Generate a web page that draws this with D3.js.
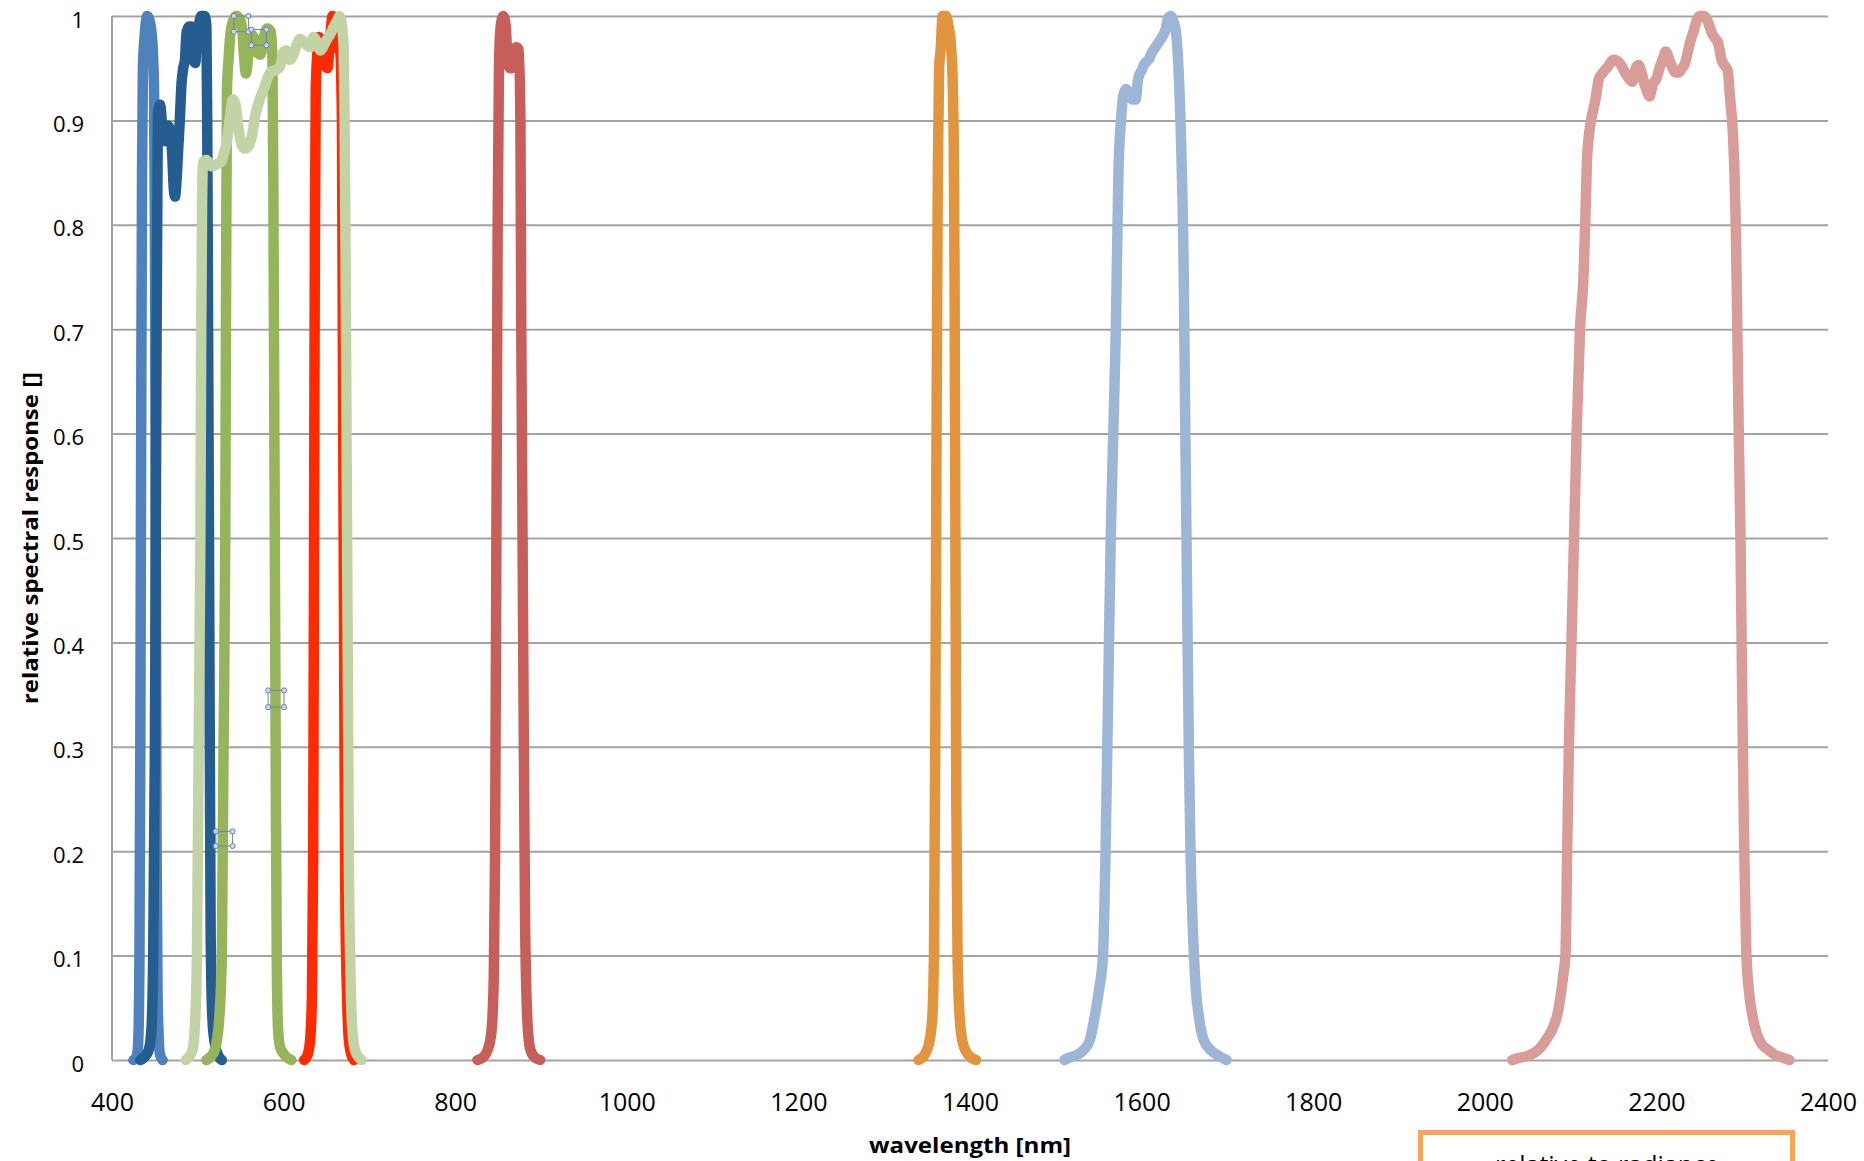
<!DOCTYPE html>
<html>
<head>
<meta charset="utf-8">
<script src="https://cdn.jsdelivr.net/npm/d3@7"></script>
<style>
  html, body { margin: 0; padding: 0; background: #fff; }
  svg { display: block; }
</style>
</head>
<body>
<svg id="chart" width="1864" height="1161"></svg>
<script>
// ---------------- DATA (wavelength nm, relative response) ----------------
const coastal = [[425,0],[428,0.002],[430,0.01],[431,0.03],[432,0.1],[433,0.3],[434,0.6],[435,0.85],[436,0.95],[438,0.98],[441,1.0],[444,0.995],[447,0.975],[449,0.93],[450,0.8],[451,0.5],[452,0.2],[453,0.07],[454.5,0.02],[456,0.005],[459,0]];
const blue = [[433,0],[438,0.003],[443,0.01],[446,0.03],[448,0.1],[450,0.3],[451,0.5],[452,0.7],[453,0.85],[454,0.91],[456,0.915],[459,0.89],[462,0.88],[465,0.895],[468,0.89],[470,0.87],[472,0.835],[473.5,0.827],[475,0.84],[477,0.87],[479,0.9],[481,0.935],[483,0.95],[485,0.958],[487,0.985],[490,0.99],[493,0.99],[495,0.96],[497,0.955],[499,0.98],[501,0.99],[504,1.0],[508,1.0],[510,0.99],[511,0.9],[512,0.7],[513,0.5],[514,0.3],[515,0.12],[517,0.04],[520,0.015],[524,0.004],[528,0]];
const green = [[510,0],[515,0.003],[520,0.01],[525,0.04],[528,0.1],[530,0.3],[532,0.5],[533,0.75],[534,0.93],[536,0.96],[538,0.983],[541,0.995],[545,1.0],[549,0.997],[552,0.985],[554,0.96],[556,0.945],[558,0.955],[561,0.983],[565,0.98],[569,0.965],[573,0.963],[577,0.98],[581,0.988],[585,0.985],[587,0.96],[588,0.85],[589,0.65],[590,0.45],[591,0.25],[592,0.1],[593.5,0.03],[596,0.012],[601,0.005],[609,0]];
const red = [[624,0],[628,0.005],[631,0.02],[633,0.06],[634.5,0.2],[635.5,0.5],[636.5,0.8],[637.5,0.93],[639,0.96],[641,0.98],[644,0.97],[647,0.955],[651,0.95],[654,0.975],[657,1.0],[660,0.985],[663,0.97],[666,0.965],[668,0.9],[669,0.7],[670,0.5],[671,0.3],[672,0.15],[674,0.06],[676,0.02],[679,0.005],[682,0]];
const nir = [[826,0],[833,0.003],[838,0.01],[842,0.025],[845,0.08],[846.5,0.2],[848,0.5],[849.5,0.8],[851,0.95],[853,0.99],[856,1.0],[859,0.99],[861,0.955],[864,0.95],[866,0.95],[868,0.96],[871,0.97],[874,0.968],[876,0.9],[877,0.7],[878.5,0.5],[880,0.3],[881.5,0.13],[884,0.04],[887,0.012],[892,0.003],[899,0]];
const swir1 = [[1510,0],[1515,0.002],[1525,0.005],[1533,0.01],[1540,0.02],[1545,0.04],[1550,0.065],[1555,0.1],[1558,0.2],[1561,0.35],[1564,0.5],[1567,0.6],[1570,0.7],[1573,0.85],[1576,0.9],[1579,0.925],[1582,0.93],[1585,0.925],[1589,0.92],[1593,0.92],[1596,0.94],[1600,0.948],[1604,0.955],[1608,0.958],[1612,0.965],[1616,0.97],[1620,0.975],[1624,0.98],[1628,0.987],[1631,0.998],[1634,1.0],[1637,0.995],[1640,0.985],[1643,0.95],[1646,0.88],[1649,0.76],[1651,0.6],[1653,0.45],[1655,0.3],[1657,0.2],[1660,0.12],[1663,0.07],[1667,0.04],[1672,0.02],[1680,0.01],[1690,0.004],[1699,0]];
const swir2 = [[2032,0],[2040,0.002],[2050,0.004],[2058,0.007],[2065,0.012],[2072,0.02],[2080,0.032],[2085,0.045],[2089,0.065],[2092,0.085],[2094,0.1],[2096,0.2],[2098,0.3],[2101,0.4],[2104,0.5],[2107,0.6],[2111,0.7],[2115,0.75],[2117,0.8],[2119,0.86],[2122,0.89],[2125,0.905],[2129,0.92],[2133,0.94],[2137,0.945],[2143,0.951],[2150,0.958],[2157,0.955],[2164,0.945],[2168,0.94],[2172,0.937],[2176,0.95],[2179,0.953],[2183,0.945],[2186,0.935],[2189,0.928],[2192,0.923],[2196,0.935],[2200,0.94],[2204,0.951],[2208,0.96],[2211,0.966],[2215,0.958],[2219,0.95],[2222,0.946],[2226,0.946],[2230,0.95],[2233,0.954],[2237,0.967],[2240,0.977],[2244,0.987],[2247,0.996],[2251,1.0],[2255,1.0],[2258,0.998],[2262,0.99],[2265,0.983],[2269,0.978],[2272,0.974],[2276,0.958],[2280,0.952],[2283,0.948],[2286,0.92],[2289,0.89],[2291,0.85],[2292.5,0.8],[2294,0.72],[2296,0.6],[2298,0.5],[2300,0.35],[2302,0.22],[2304,0.13],[2305,0.1],[2308,0.065],[2312,0.042],[2317,0.025],[2323,0.015],[2330,0.01],[2338,0.005],[2348,0.002],[2355,0]];
const pan = [[486,0],[490,0.003],[494,0.01],[497,0.04],[499,0.1],[501,0.3],[503,0.5],[504,0.7],[505,0.82],[506,0.86],[510,0.862],[516,0.856],[522,0.858],[527,0.86],[531,0.87],[534,0.88],[537,0.9],[541,0.92],[544,0.915],[547,0.895],[551,0.877],[555,0.873],[559,0.875],[563,0.885],[567,0.905],[572,0.92],[577,0.93],[581,0.94],[586,0.947],[591,0.948],[596,0.952],[600,0.966],[603,0.967],[607,0.958],[611,0.962],[615,0.972],[619,0.978],[623,0.976],[627,0.972],[631,0.97],[635,0.98],[639,0.975],[643,0.967],[647,0.972],[650,0.977],[654,0.982],[658,0.989],[662,0.995],[665,1.0],[668,0.99],[670,0.97],[671,0.9],[672,0.8],[673,0.65],[674,0.5],[675,0.35],[676,0.2],[678,0.08],[680,0.03],[683,0.01],[687,0.003],[691,0]];
const cirrus = [[1340,0],[1347,0.005],[1352,0.015],[1356,0.04],[1358,0.1],[1359.5,0.3],[1361,0.6],[1362.5,0.85],[1364,0.95],[1366,0.97],[1368,1.0],[1372,1.0],[1375,0.99],[1378,0.97],[1380,0.93],[1381,0.88],[1382,0.75],[1383,0.5],[1384,0.25],[1385.5,0.1],[1388,0.04],[1392,0.015],[1398,0.005],[1407,0]];

const seriesNames = ["coastal","blue","green","red","nir","swir1","swir2","pan","cirrus"];
const seriesData = [coastal, blue, green, red, nir, swir1, swir2, pan, cirrus];

const xTicks = [400,600,800,1000,1200,1400,1600,1800,2000,2200,2400];
const yTicks = [0,0.1,0.2,0.3,0.4,0.5,0.6,0.7,0.8,0.9,1];
const yTickLabels = ["0","0.1","0.2","0.3","0.4","0.5","0.6","0.7","0.8","0.9","1"];

const xTitle = "wavelength [nm]";
const yTitle = "relative spectral response []";
const boxText = "relative to radiance";

// selection-handle boxes seen in the picture: [wl0, wl1, v0, v1]
const handleBoxes = [[542,559,0.985,1.0],[562.5,580,0.972,0.987],[582,600.5,0.338,0.354],[521,540.5,0.205,0.219]];

// ---------------- STYLE ----------------
const colors = {
  coastal: "#4F81BD", blue: "#265D91", green: "#96B45B", red: "#FF2A00",
  nir: "#C65F5A", swir1: "#9EB6D6", swir2: "#D89C99", pan: "#C2D3A6", cirrus: "#E2953F"
};

const svg = d3.select("#chart");
svg.append("rect").attr("width",1864).attr("height",1161).attr("fill","#fff");

const x = d3.scaleLinear().domain([400,2400]).range([112,1828]);
const y = d3.scaleLinear().domain([0,1]).range([1060,16]);

// gridlines + y labels
const yAxis = d3.axisLeft(y).tickValues(yTicks)
  .tickFormat((d,i) => yTickLabels[i])
  .tickSize(-(x.range()[1]-x.range()[0])).tickPadding(28);
const gy = svg.append("g").attr("transform",`translate(${x.range()[0]},0)`).call(yAxis);
gy.select(".domain").remove();
gy.selectAll(".tick line").attr("stroke","#A3A3A3").attr("stroke-width",2);
gy.selectAll(".tick text").attr("font-family","'Open Sans', sans-serif").attr("font-size",22)
  .attr("fill","#000").attr("dy","0.5em");

// left axis line
svg.append("line").attr("x1",x(400)).attr("x2",x(400)).attr("y1",y(1)).attr("y2",y(0))
  .attr("stroke","#A3A3A3").attr("stroke-width",2);

// x labels
const xAxis = d3.axisBottom(x).tickValues(xTicks).tickFormat(d3.format("d")).tickSize(0).tickPadding(0);
const gx = svg.append("g").attr("transform",`translate(0,${y(0)})`).call(xAxis);
gx.select(".domain").remove();
gx.selectAll(".tick text").attr("font-family","'Open Sans', sans-serif").attr("font-size",25)
  .attr("fill","#000").attr("dy",null).attr("y",41).attr("dominant-baseline","central");

// series
const line = d3.line().x(d => x(d[0])).y(d => y(d[1])).curve(d3.curveMonotoneX);
const gs = svg.append("g");
seriesData.forEach((data, i) => {
  gs.append("path").datum(data).attr("d", line)
    .attr("fill","none").attr("stroke", colors[seriesNames[i]])
    .attr("stroke-width",10.5).attr("stroke-linejoin","round").attr("stroke-linecap","round");
});

// handle boxes
const gh = svg.append("g");
handleBoxes.forEach(b => {
  const x0 = x(b[0]), x1 = x(b[1]), y0 = y(b[3]), y1 = y(b[2]);
  gh.append("rect").attr("x",x0).attr("y",y0).attr("width",x1-x0).attr("height",y1-y0)
    .attr("fill","none").attr("stroke","#808080").attr("stroke-width",1);
  [[x0,y0],[x1,y0],[x0,y1],[x1,y1]].forEach(p => {
    gh.append("circle").attr("cx",p[0]).attr("cy",p[1]).attr("r",2.6)
      .attr("fill","#C9DAF0").attr("stroke","#5F84B4").attr("stroke-width",1);
  });
});

// axis titles
svg.append("text").attr("x",(x(400)+x(2400))/2).attr("y",1153)
  .attr("text-anchor","middle").attr("font-family","'Open Sans', sans-serif")
  .attr("font-weight","bold").attr("font-size",21)
  .attr("textLength",202).attr("lengthAdjust","spacingAndGlyphs").text(xTitle);

svg.append("text").attr("transform",`translate(30,${(y(0)+y(1))/2}) rotate(-90)`)
  .attr("text-anchor","middle").attr("dominant-baseline","central")
  .attr("font-family","'Open Sans', sans-serif").attr("font-weight","bold").attr("font-size",21)
  .attr("textLength",332).attr("lengthAdjust","spacingAndGlyphs").text(yTitle);

// orange box at bottom right
svg.append("rect").attr("x",1420.5).attr("y",1132.5).attr("width",372).attr("height",80)
  .attr("fill","#fff").attr("stroke","#F8A35A").attr("stroke-width",5);
svg.append("text").attr("x",1607).attr("y",1174).attr("text-anchor","middle")
  .attr("font-family","'Open Sans', sans-serif").attr("font-size",25).attr("fill","#000")
  .text(boxText);
</script>
</body>
</html>
